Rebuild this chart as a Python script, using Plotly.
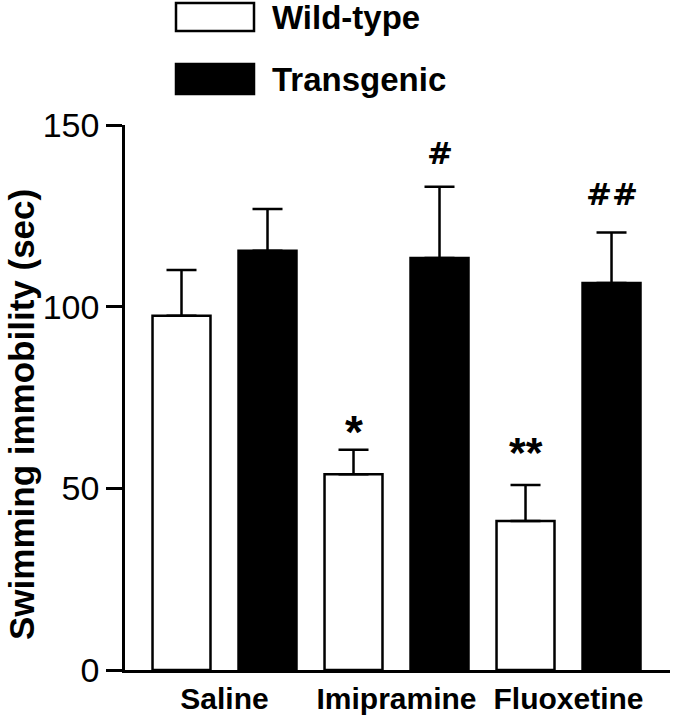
import plotly.graph_objects as go

# ---- data ----
categories = ["Saline", "Imipramine", "Fluoxetine"]
wt_values = [97.5, 53.9, 41.0]
wt_errors = [12.6, 6.7, 9.9]
tg_values = [115.4, 113.4, 106.5]
tg_errors = [11.5, 19.6, 13.9]
wt_marks = ["", "*", "**"]
tg_marks = ["", "#", "##"]
y_ticks = [0, 50, 100, 150]
series_names = ["Wild-type", "Transgenic"]

# ---- styling ----
W, H = 673, 719
L, R, T, B = 125, 3, 125, 49
FONT = "Liberation Sans, Arial, Helvetica, sans-serif"
MARK_STYLE = {
    "*": dict(size=46, yshift=-10, family=FONT),
    "**": dict(size=43, yshift=7, family=FONT),
    "#": dict(size=31, yshift=14, family="DejaVu Sans, " + FONT),
    "##": dict(size=31, yshift=19, family="DejaVu Sans, " + FONT),
}


def px_x(px):
    return (px - L) / (W - L - R)


def px_y(py):
    return (H - B - py) / (H - T - B)


fig = go.Figure()
fig.add_trace(go.Bar(
    name=series_names[0], x=categories, y=wt_values,
    marker=dict(color="white", line=dict(color="black", width=2.5)),
    error_y=dict(type="data", array=wt_errors, arrayminus=[0] * 3, symmetric=False,
                 color="black", thickness=2.5, width=15),
    showlegend=False,
))
fig.add_trace(go.Bar(
    name=series_names[1], x=categories, y=tg_values,
    marker=dict(color="black", line=dict(color="black", width=2.5)),
    error_y=dict(type="data", array=tg_errors, arrayminus=[0] * 3, symmetric=False,
                 color="black", thickness=2.5, width=15),
    showlegend=False,
))

annotations = []
# significance marks
for shift, vals, errs, marks in ((-43, wt_values, wt_errors, wt_marks),
                                 (43, tg_values, tg_errors, tg_marks)):
    for cat, v, e, m in zip(categories, vals, errs, marks):
        if not m:
            continue
        st = MARK_STYLE[m]
        annotations.append(dict(x=cat, y=v + e, xref="x", yref="y", text=m, showarrow=False,
                                xshift=shift, yanchor="bottom", yshift=st["yshift"],
                                font=dict(family=st["family"], size=st["size"],
                                          color="black", weight="bold")))

# legend (drawn manually for large swatches)
shapes = []
legend_rows = [(series_names[0], "white", 3, 31), (series_names[1], "black", 64, 94)]
for name, col, ytop, ybot in legend_rows:
    shapes.append(dict(type="rect", xref="paper", yref="paper",
                       x0=px_x(176), x1=px_x(254), y0=px_y(ybot), y1=px_y(ytop),
                       fillcolor=col, line=dict(color="black", width=2.5)))
    annotations.append(dict(x=px_x(270), y=px_y((ytop + ybot) / 2), xref="paper", yref="paper",
                            text=name, showarrow=False, xanchor="left", yanchor="middle",
                            font=dict(family=FONT, size=33, color="black", weight="bold")))

# y-axis title
annotations.append(dict(x=px_x(22), y=px_y(415), xref="paper", yref="paper",
                        text="Swimming immobility (sec)", textangle=-90, showarrow=False,
                        xanchor="center", yanchor="middle",
                        font=dict(family=FONT, size=35, color="black", weight="bold")))

fig.update_layout(
    width=W, height=H,
    margin=dict(l=L, r=R, t=T, b=B, pad=0),
    paper_bgcolor="white", plot_bgcolor="white",
    barmode="group", bargap=0, bargroupgap=0.326,
    annotations=annotations, shapes=shapes,
    font=dict(family=FONT, color="black"),
)
fig.update_xaxes(
    type="category", range=[-0.5785, 2.59],
    showline=True, linecolor="black", linewidth=2.5,
    ticks="", showgrid=False, zeroline=False,
    tickfont=dict(family=FONT, size=30, color="black", weight="bold"),
)
fig.update_yaxes(
    range=[0, 150], tickvals=y_ticks,
    showline=True, linecolor="black", linewidth=2.5,
    ticks="outside", ticklen=16, tickwidth=2.5, tickcolor="black",
    showgrid=False, zeroline=False,
    tickfont=dict(family=FONT, size=34, color="black"),
)

fig.write_html("out.html", config={"displayModeBar": False},
               post_script="document.body.style.margin='0px';document.body.style.overflow='hidden';")
